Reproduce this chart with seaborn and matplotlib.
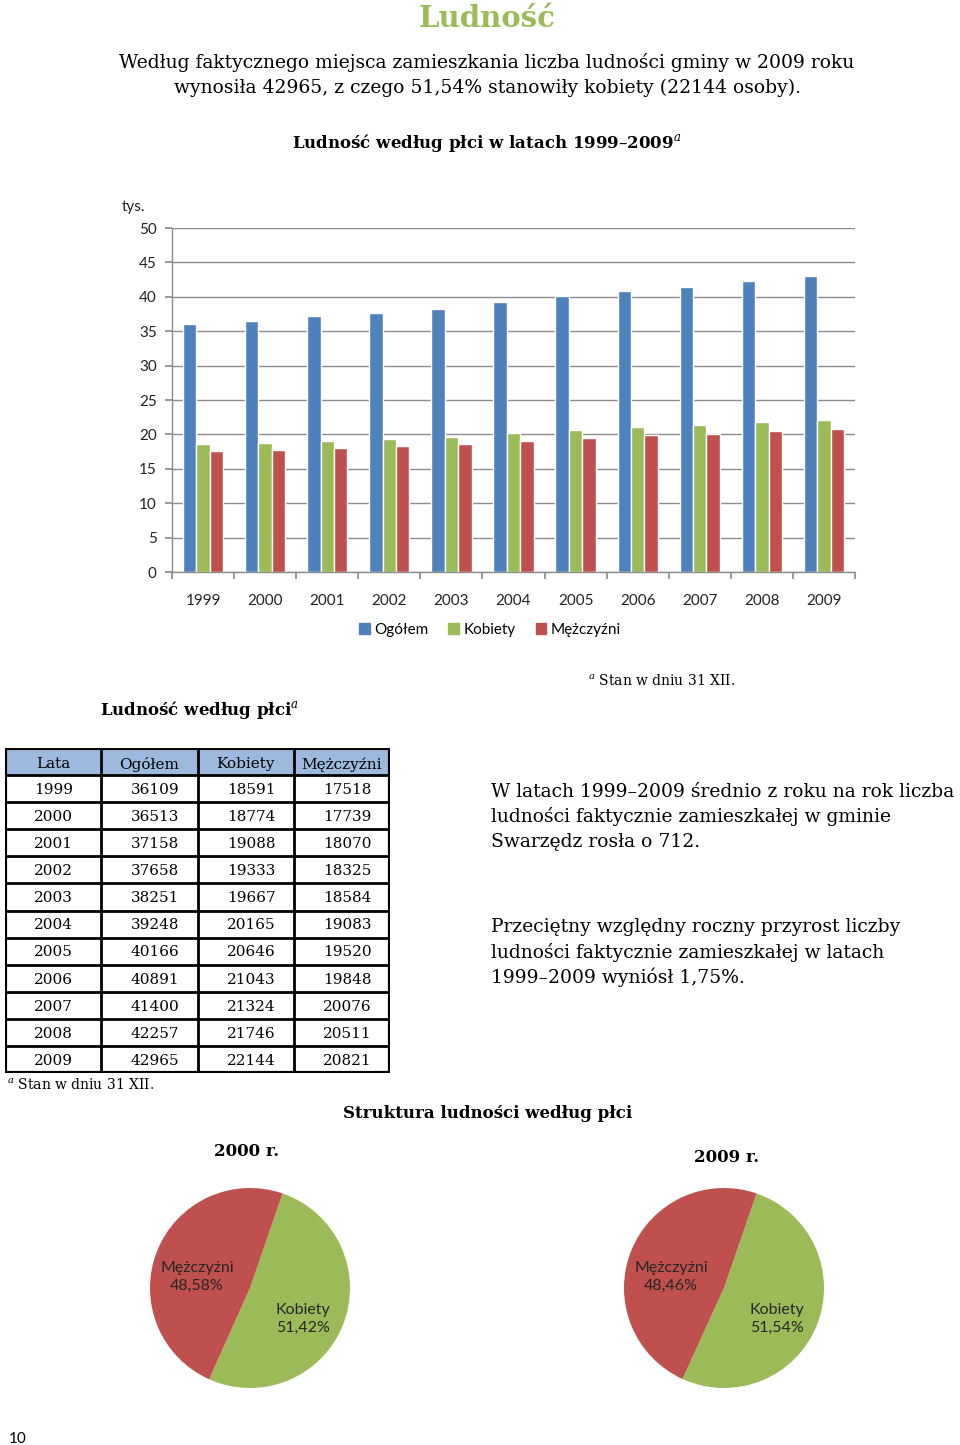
import numpy as np
import pandas as pd
import matplotlib
matplotlib.use("Agg")
import matplotlib.pyplot as plt
import seaborn as sns
from matplotlib.patches import Patch

# dane z tabeli "Ludność według płci"
lata = [1999, 2000, 2001, 2002, 2003, 2004, 2005, 2006, 2007, 2008, 2009]
ogolem = [36109, 36513, 37158, 37658, 38251, 39248, 40166, 40891, 41400, 42257, 42965]
kobiety = [18591, 18774, 19088, 19333, 19667, 20165, 20646, 21043, 21324, 21746, 22144]
mezczyzni = [17518, 17739, 18070, 18325, 18584, 19083, 19520, 19848, 20076, 20511, 20821]
serie = ["Ogółem", "Kobiety", "Mężczyźni"]
kolory = ["#4F81BD", "#9BBB59", "#C0504D"]
lata_kolowe = [2000, 2009]

sns.set_theme(style="white")
plt.rcParams['font.family'] = ['DejaVu Serif']
plt.rcParams['mathtext.fontset'] = 'dejavuserif'
plt.rcParams['text.color'] = 'black'
SANS = ['Lato', 'DejaVu Sans']

fig = plt.figure(figsize=(9.6, 14.45), dpi=100)


def fx(px):
    return px / 960


def fy(px):
    return 1 - px / 1445


# naglowki i tekst
fig.text(fx(487), fy(27), "Ludność", ha='center', va='baseline',
         fontsize=21, fontweight='bold', color='#9BBB59')
fig.text(fx(487), fy(62), "Według faktycznego miejsca zamieszkania liczba ludności gminy w 2009 roku",
         ha='center', va='center', fontsize=13.5)
fig.text(fx(487), fy(88), "wynosiła 42965, z czego 51,54% stanowiły kobiety (22144 osoby).",
         ha='center', va='center', fontsize=13.5)
fig.text(fx(487), fy(143), r"Ludność według płci w latach 1999–2009$^{\mathit{a}}$",
         ha='center', va='center', fontsize=12, fontweight='bold')

# wykres slupkowy
df = pd.DataFrame({
    "rok": [str(r) for r in lata] * 3,
    "seria": [s for s in serie for _ in lata],
    "wartosc": [v / 1000 for v in ogolem + kobiety + mezczyzni],
})
ax = fig.add_axes([fx(172), fy(572), fx(855) - fx(172), (572 - 228) / 1445])
sns.barplot(data=df, x="rok", y="wartosc", hue="seria", hue_order=serie,
            palette=kolory, width=0.65, gap=0, saturation=1, legend=False, ax=ax)
for p in ax.patches:
    p.set_zorder(3)
ax.set_xlim(-0.5, len(lata) - 0.5)
ax.set_ylim(0, 50)
ax.set_yticks(range(0, 51, 5))
ax.set_xticks(np.arange(-0.5, len(lata), 1))
ax.set_xticklabels([])
ax.set_xticks(np.arange(len(lata)), labels=[str(r) for r in lata], minor=True)
ax.set_xlabel("")
ax.set_ylabel("")
ax.yaxis.grid(True, color='#8c8c8c', lw=1, zorder=0)
ax.set_axisbelow(True)
for s in ['top', 'right']:
    ax.spines[s].set_visible(False)
for s in ['left', 'bottom']:
    ax.spines[s].set_color('#8c8c8c')
    ax.spines[s].set_linewidth(1)
    ax.spines[s].set_zorder(4)
ax.tick_params(axis='y', which='major', left=True, length=5, color='#8c8c8c', pad=6)
ax.tick_params(axis='x', which='major', bottom=True, length=5, color='#8c8c8c')
ax.tick_params(axis='x', which='minor', bottom=True, length=0, pad=16)
for lab in ax.get_yticklabels() + ax.get_xticklabels(minor=True):
    lab.set_family(SANS)
    lab.set_fontsize(11)
    lab.set_color('#222222')
fig.text(fx(133), fy(207), "tys.", ha='center', va='center', family=SANS, fontsize=11, color='#222222')

fig.legend(handles=[Patch(color=c, label=s) for s, c in zip(serie, kolory)],
           loc='center', bbox_to_anchor=(fx(490), fy(630)), ncol=3, frameon=False,
           handlelength=0.7, handleheight=0.7, columnspacing=1.3, handletextpad=0.3,
           prop={'family': SANS, 'size': 11})

fig.text(fx(735), fy(681), r"$^{\mathit{a}}$ Stan w dniu 31 XII.", ha='right', va='center', fontsize=10)
fig.text(fx(100), fy(710), r"Ludność według płci$^{\mathit{a}}$", ha='left', va='center',
         fontsize=12, fontweight='bold')

# tabela
axt = fig.add_axes([fx(5), fy(1073), fx(390) - fx(5), (1073 - 748) / 1445])
kolumny = ["Lata"] + serie
n_wier = len(lata) + 1
axt.set_xlim(0, 4)
axt.set_ylim(n_wier, 0)
axt.axis('off')
axt.axhspan(0, 1, color='#9DB9DE', zorder=0)
for i in range(n_wier + 1):
    axt.axhline(i, color='black', lw=3 if i in (0, n_wier) else 2)
for j in range(5):
    axt.axvline(j, color='black', lw=3 if j in (0, 4) else 2)
for j, k in enumerate(kolumny):
    axt.text(j + 0.5, 0.6, k, ha='center', va='center', fontsize=11)
for i, wiersz in enumerate(zip(lata, ogolem, kobiety, mezczyzni)):
    for j, v in enumerate(wiersz):
        axt.text(j + 0.5 + (0.06 if j else 0), i + 1.55, str(v), ha='center', va='center', fontsize=11)
fig.text(fx(7), fy(1085), r"$^{\mathit{a}}$ Stan w dniu 31 XII.", ha='left', va='center', fontsize=10)

# tekst po prawej
for y, t in zip([792, 817, 842], ["W latach 1999–2009 średnio z roku na rok liczba",
                                   "ludności faktycznie zamieszkałej w gminie",
                                   "Swarzędz rosła o 712."]):
    fig.text(fx(491), fy(y), t, ha='left', va='center', fontsize=13.5)
for y, t in zip([927, 952, 977], ["Przeciętny względny roczny przyrost liczby",
                                   "ludności faktycznie zamieszkałej w latach",
                                   "1999–2009 wyniósł 1,75%."]):
    fig.text(fx(491), fy(y), t, ha='left', va='center', fontsize=13.5)

fig.text(fx(488), fy(1113), "Struktura ludności według płci", ha='center', va='center',
         fontsize=12, fontweight='bold')

# wykresy kolowe
pozycje = {2000: (250, 1288, 247, 1151), 2009: (724, 1288, 727, 1157)}
for rok in lata_kolowe:
    i = lata.index(rok)
    wartosci = [kobiety[i], mezczyzni[i]]
    etykiety = ["Kobiety", "Mężczyźni"]
    cx, cy, tx, ty = pozycje[rok]
    axp = fig.add_axes([fx(cx - 100), fy(cy + 100), 200 / 960, 200 / 1445])
    _, _, auto = axp.pie(
        wartosci, colors=[kolory[1], kolory[2]], startangle=71, counterclock=False,
        autopct=lambda p, e=iter(etykiety): f"{next(e)}\n{p:.2f}%".replace('.', ','),
        pctdistance=0.57, wedgeprops={'linewidth': 0},
        textprops={'family': SANS, 'fontsize': 11.5, 'color': '#262626', 'linespacing': 1.35})
    for t in auto:
        x, y = t.get_position()
        t.set_position((x, y - 0.1))
    axp.set_xlim(-1, 1)
    axp.set_ylim(-1, 1)
    axp.set_aspect('equal')
    fig.text(fx(tx), fy(ty), f"{rok} r.", ha='center', va='center', fontsize=12, fontweight='bold')

fig.text(fx(18), fy(1439), "10", ha='center', va='center', family=SANS, fontsize=11)

fig.savefig("out.png", dpi=100)
